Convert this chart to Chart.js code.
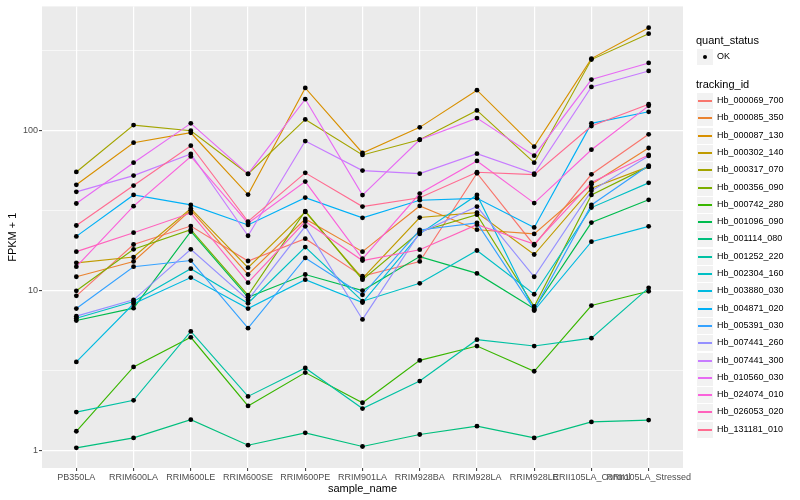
<!DOCTYPE html>
<html>
<head>
<meta charset="utf-8">
<script src="https://cdn.jsdelivr.net/npm/chart.js@4.4.0/dist/chart.umd.min.js"></script>
<style>
  body { margin: 0; background: #fff; }
  #wrap { position: relative; width: 800px; height: 500px; font-family: 'Liberation Sans', Arial, sans-serif; }
  #chart { position: absolute; left: 0; top: 0; }
  .lg-title { position: absolute; left: 696px; font-size: 11px; line-height: 13px; color: #000; white-space: nowrap; }
  .lg-key { position: absolute; left: 697px; width: 16px; height: 16px; background: #F2F2F2; }
  .lg-line { position: absolute; left: 1px; right: 1px; top: 7px; height: 1.5px; }
  .lg-dot { position: absolute; left: 6px; top: 6px; width: 4px; height: 4px; border-radius: 50%; background: #000; }
  .lg-text { position: absolute; left: 717px; font-size: 9px; line-height: 11px; color: #000; white-space: nowrap; }
</style>
</head>
<body>
<div id="wrap">
  <canvas id="chart" width="800" height="500"></canvas>
  <div id="legend"></div>
</div>
<script>
const sampleNames = ['PB350LA', 'RRIM600LA', 'RRIM600LE', 'RRIM600SE', 'RRIM600PE', 'RRIM901LA',
  'RRIM928BA', 'RRIM928LA', 'RRIM928LE', 'RRII105LA_Control', 'RRII105LA_Stressed'];

const trackingIds = ['Hb_000069_700', 'Hb_000085_350', 'Hb_000087_130', 'Hb_000302_140', 'Hb_000317_070',
  'Hb_000356_090', 'Hb_000742_280', 'Hb_001096_090', 'Hb_001114_080', 'Hb_001252_220',
  'Hb_002304_160', 'Hb_003880_030', 'Hb_004871_020', 'Hb_005391_030', 'Hb_007441_260',
  'Hb_007441_300', 'Hb_010560_030', 'Hb_024074_010', 'Hb_026053_020', 'Hb_131181_010'];

const seriesColors = ['#F8766D', '#EA8331', '#D89000', '#C09B00', '#A3A500', '#7CAE00', '#39B600', '#00BB4E',
  '#00BF7D', '#00C1A3', '#00BFC4', '#00BAE0', '#00B0F6', '#35A2FF', '#9590FF', '#C77CFF',
  '#E76BF3', '#FA62DB', '#FF62BC', '#FF6C91'];

// FPKM + 1 per sample, one array per tracking id
const hb_000069_700 = [9.27, 19.4, 25.3, 15.3, 21.1, 12.3, 15.2, 54.1, 19.2, 53.3, 94.7];
const hb_000085_350 = [12.2, 15.2, 31.8, 12.6, 28.0, 17.5, 33.8, 24.0, 22.6, 46.2, 77.8];
const hb_000087_130 = [45.8, 84.0, 96.9, 39.8, 184.8, 72.4, 104.7, 178.8, 79.3, 281.8, 439.5];
const hb_000302_140 = [14.9, 16.2, 32.6, 13.9, 31.0, 11.9, 28.6, 30.7, 16.8, 43.6, 59.5];
const hb_000317_070 = [55.1, 108.2, 99.7, 53.6, 117.4, 70.4, 87.6, 133.6, 63.0, 277.7, 403.3];
const hb_000356_090 = [9.96, 18.1, 24.0, 9.35, 31.4, 11.7, 23.3, 29.8, 7.95, 39.6, 59.5];
const hb_000742_280 = [1.32, 3.33, 5.10, 1.90, 3.07, 1.99, 3.66, 4.50, 3.13, 8.06, 9.90];
const hb_001096_090 = [6.50, 7.76, 23.4, 9.08, 12.6, 10.0, 16.3, 12.8, 7.69, 26.6, 36.9];
const hb_001114_080 = [1.04, 1.20, 1.56, 1.08, 1.29, 1.06, 1.26, 1.42, 1.20, 1.51, 1.55];
const hb_001252_220 = [1.74, 2.06, 5.55, 2.18, 3.28, 1.83, 2.72, 4.93, 4.50, 5.04, 10.4];
const hb_002304_160 = [6.72, 8.54, 13.7, 8.33, 18.7, 8.58, 11.1, 17.8, 9.48, 33.0, 47.1];
const hb_003880_030 = [3.58, 8.26, 12.05, 7.72, 11.7, 8.42, 22.6, 39.6, 7.50, 20.2, 25.2];
const hb_004871_020 = [21.8, 39.6, 34.3, 25.7, 38.1, 28.5, 36.7, 37.7, 24.8, 110.9, 131.0];
const hb_005391_030 = [7.72, 14.1, 15.4, 5.82, 16.0, 9.40, 23.9, 26.5, 7.61, 34.3, 60.4];
const hb_007441_260 = [6.92, 8.75, 18.1, 8.75, 25.2, 6.60, 23.0, 33.5, 12.2, 42.0, 69.4];
const hb_007441_300 = [41.4, 52.3, 71.4, 22.0, 86.0, 56.2, 53.8, 71.7, 53.8, 187.5, 235.8];
const hb_010560_030 = [35.0, 63.0, 110.9, 53.6, 157.1, 39.5, 87.6, 119.6, 69.7, 208.4, 264.5];
const hb_024074_010 = [14.1, 33.7, 68.9, 26.4, 48.0, 15.8, 40.4, 64.6, 35.2, 75.9, 142.7];
const hb_026053_020 = [17.5, 23.0, 30.5, 11.2, 27.0, 15.4, 18.0, 25.8, 19.5, 47.3, 70.4];
const hb_131181_010 = [25.5, 45.3, 80.4, 27.0, 54.4, 33.5, 38.0, 54.9, 53.0, 106.7, 146.2];

const seriesValues = [hb_000069_700, hb_000085_350, hb_000087_130, hb_000302_140, hb_000317_070,
  hb_000356_090, hb_000742_280, hb_001096_090, hb_001114_080, hb_001252_220,
  hb_002304_160, hb_003880_030, hb_004871_020, hb_005391_030, hb_007441_260,
  hb_007441_300, hb_010560_030, hb_024074_010, hb_026053_020, hb_131181_010];

const yGridValues = [1, 3.162, 10, 31.62, 100, 316.2];
const yTickValues = [1, 10, 100];
const yTickLabels = ['1', '10', '100'];

const FONT = "'Liberation Sans', Arial, sans-serif";
const isMajorY = v => yTickValues.includes(v);

const panelBg = {
  id: 'panelBg',
  beforeDraw(chart) {
    const { ctx, chartArea: a } = chart;
    ctx.save();
    ctx.fillStyle = '#EBEBEB';
    ctx.fillRect(a.left, a.top, a.right - a.left, a.bottom - a.top);
    ctx.restore();
  }
};

const lineSets = seriesValues.map((vals, i) => ({
  label: trackingIds[i],
  data: vals.map((v, j) => ({ x: j, y: v })),
  borderColor: seriesColors[i],
  borderWidth: 1.15,
  pointRadius: 0,
  tension: 0,
  fill: false,
  order: seriesValues.length - i
}));

const pointSet = {
  label: 'OK',
  data: seriesValues.flatMap(vals => vals.map((v, j) => ({ x: j, y: v }))),
  showLine: false,
  pointRadius: 2.4,
  pointBackgroundColor: '#000',
  pointBorderWidth: 0,
  order: -1
};

new Chart(document.getElementById('chart'), {
  type: 'line',
  data: { datasets: [pointSet, ...lineSets] },
  plugins: [panelBg],
  options: {
    responsive: false,
    animation: false,
    layout: { padding: { left: 4, top: 5, right: 117, bottom: 0 } },
    plugins: { legend: { display: false }, tooltip: { enabled: false } },
    scales: {
      x: {
        type: 'linear', min: -0.6, max: 10.6,
        afterBuildTicks: s => { s.ticks = sampleNames.map((_, i) => ({ value: i })); },
        afterFit: s => { s.height = 32; },
        border: { display: false },
        grid: { color: '#FFFFFF', lineWidth: 1.2, tickColor: '#333333', tickLength: 3, tickWidth: 1 },
        ticks: {
          autoSkip: false, maxRotation: 0, minRotation: 0, padding: 1,
          color: '#4D4D4D', font: { size: 9, family: FONT },
          callback: v => sampleNames[v]
        },
        title: { display: true, text: 'sample_name', color: '#000', font: { size: 11, family: FONT }, padding: { top: 0, bottom: 4 } }
      },
      y: {
        type: 'logarithmic', min: 0.778, max: 597,
        afterBuildTicks: s => { s.ticks = yGridValues.map(v => ({ value: v })); },
        afterFit: s => { s.width = 38; },
        border: { display: false },
        grid: {
          color: '#FFFFFF',
          lineWidth: c => (c.tick && isMajorY(c.tick.value) ? 1.2 : 0.6),
          tickColor: c => (c.tick && isMajorY(c.tick.value) ? '#333333' : 'rgba(0,0,0,0)'),
          tickLength: 3, tickWidth: 1
        },
        ticks: {
          autoSkip: false, padding: 1,
          color: '#4D4D4D', font: { size: 9, family: FONT },
          callback: v => (isMajorY(v) ? yTickLabels[yTickValues.indexOf(v)] : '')
        },
        title: { display: true, text: 'FPKM + 1', color: '#000', font: { size: 11, family: FONT }, padding: { top: 2, bottom: 0 } }
      }
    }
  }
});

// ggplot-style legend
const legend = document.getElementById('legend');
function add(cls, top, html) {
  const el = document.createElement('div');
  el.className = cls;
  el.style.top = top + 'px';
  if (html) el.innerHTML = html;
  legend.appendChild(el);
  return el;
}
add('lg-title', 34).textContent = 'quant_status';
add('lg-key', 49, '<div class="lg-dot"></div>');
add('lg-text', 51).textContent = 'OK';
add('lg-title', 78).textContent = 'tracking_id';
trackingIds.forEach((id, i) => {
  const top = Math.round(93 + i * 17.3);
  add('lg-key', top, '<div class="lg-line" style="background:' + seriesColors[i] + '"></div>');
  add('lg-text', top + 2).textContent = id;
});
</script>
</body>
</html>
